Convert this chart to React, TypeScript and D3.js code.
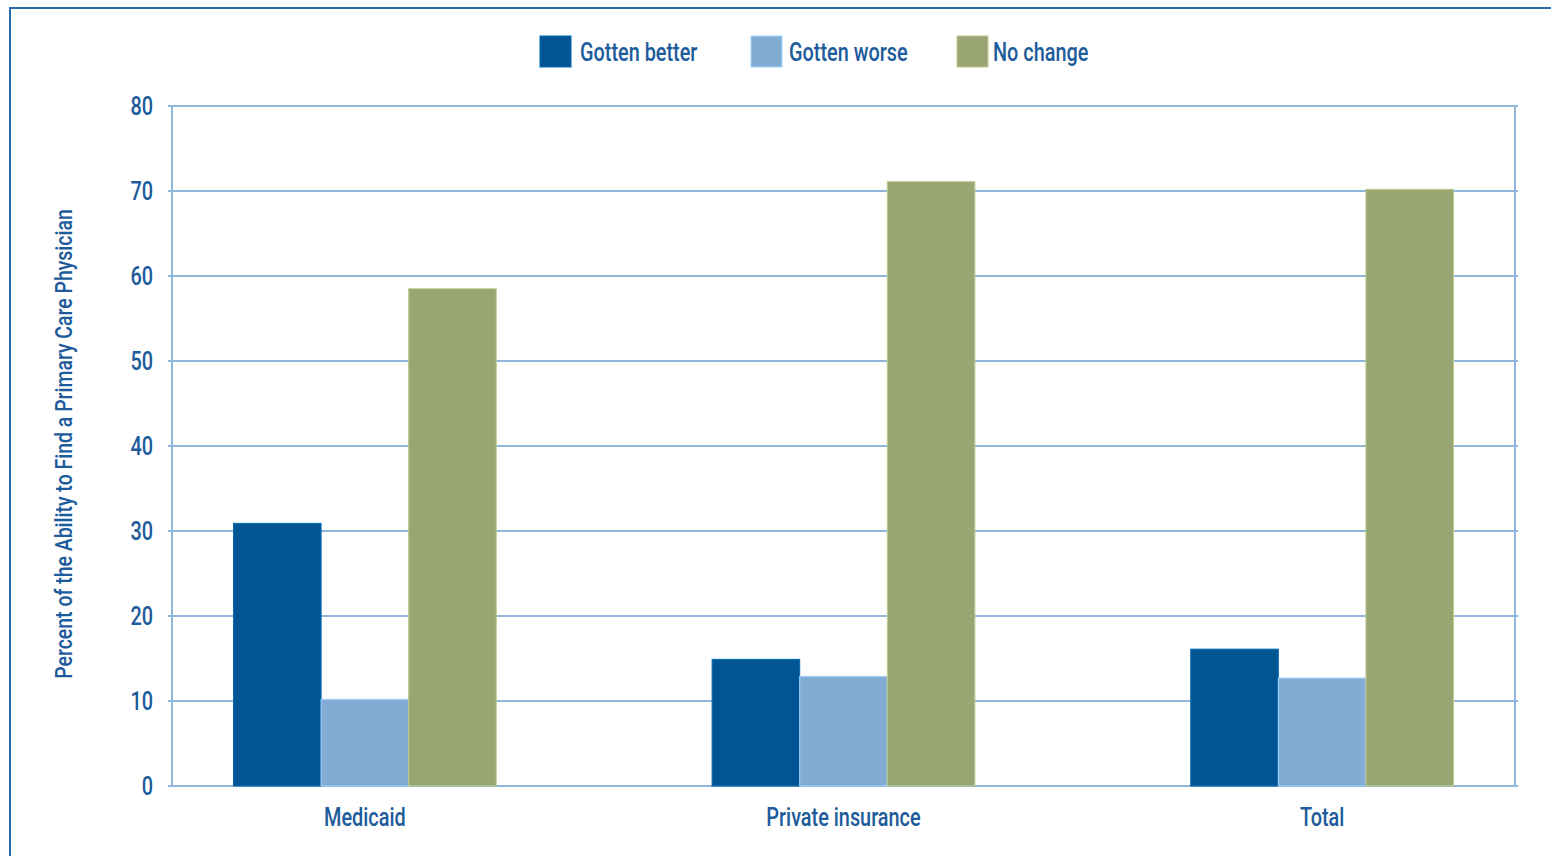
import React from "react";
import * as d3 from "d3";

const categories = ["Medicaid", "Private insurance", "Total"];
const seriesNames = ["Gotten better", "Gotten worse", "No change"];
const gottenBetter = [30.9, 14.9, 16.1];
const gottenWorse = [10.2, 12.9, 12.7];
const noChange = [58.5, 71.1, 70.2];
const yTicks = [0, 10, 20, 30, 40, 50, 60, 70, 80];
const yTitle = "Percent of the Ability to Find a Primary Care Physician";

const colors = ["#005592", "#82acd4", "#99a573"];
const textColor = "#1d5b9b";
const gridColor = "#8fb6dd";
const FONT = "Roboto, 'Liberation Sans', sans-serif";
const SX = 0.795;

function T({ x, y, rotate = 0, anchor = "start", size = 25, dy = "0", children }: any) {
  return (
    <text transform={`translate(${x},${y}) rotate(${rotate}) scale(${SX},1)`} textAnchor={anchor} dy={dy}
      fontSize={size} fontWeight={500} fill={textColor}>{children}</text>
  );
}

export default function App() {
  const W = 1551, H = 856;
  const left = 172, right = 1515, top = 106, bottom = 786;
  const series = [gottenBetter, gottenWorse, noChange];

  const y = d3.scaleLinear().domain([0, 80]).range([bottom, top]);
  const x0 = d3.scaleBand<string>().domain(categories).range([left, right]).paddingInner(0.451).paddingOuter(0.1285);
  const x1 = d3.scaleBand<string>().domain(seriesNames).range([0, x0.bandwidth()]).padding(0);

  const legendSquareX = [540, 751, 957];
  const legendTextX = [580, 789, 993];

  return (
    <svg width={W} height={H} style={{ position: "absolute", left: 0, top: 0, display: "block", background: "#fff" }}
      fontFamily={FONT}>
      <rect x={10} y={8} width={1600} height={900} fill="none" stroke="#2a6aa6" strokeWidth={2} />
      {yTicks.map((t) => (
        <line key={t} x1={left - 4} x2={right + 3} y1={y(t)} y2={y(t)} stroke={gridColor} strokeWidth={2} />
      ))}
      <line x1={left} x2={left} y1={top} y2={bottom} stroke={gridColor} strokeWidth={2} />
      <line x1={right} x2={right} y1={top} y2={bottom + 1} stroke={gridColor} strokeWidth={2} />
      {categories.map((c, ci) => (
        <g key={c} transform={`translate(${x0(c)},0)`}>
          {seriesNames.map((s, si) => (
            <rect key={s} x={x1(s)} y={y(series[si][ci])} width={x1.bandwidth()} height={y(0) - y(series[si][ci])}
              fill={colors[si]} stroke={d3.color(colors[si])!.brighter(0.6).toString()} strokeWidth={1} />
          ))}
        </g>
      ))}
      {yTicks.map((t) => (
        <T key={t} x={153} y={y(t)} dy="0.36em" anchor="end" size={25}>{t}</T>
      ))}
      {categories.map((c) => (
        <T key={c} x={x0(c)! + x0.bandwidth() / 2} y={826} anchor="middle" size={25}>{c}</T>
      ))}
      <T x={72} y={(top + bottom) / 2 - 2} rotate={-90} anchor="middle" size={24.5}>{yTitle}</T>
      {seriesNames.map((s, i) => (
        <g key={s}>
          <rect x={legendSquareX[i]} y={36} width={31} height={31} fill={colors[i]}
            stroke={d3.color(colors[i])!.brighter(0.6).toString()} strokeWidth={1} />
          <T x={legendTextX[i]} y={52} dy="0.36em" size={25}>{s}</T>
        </g>
      ))}
    </svg>
  );
}
